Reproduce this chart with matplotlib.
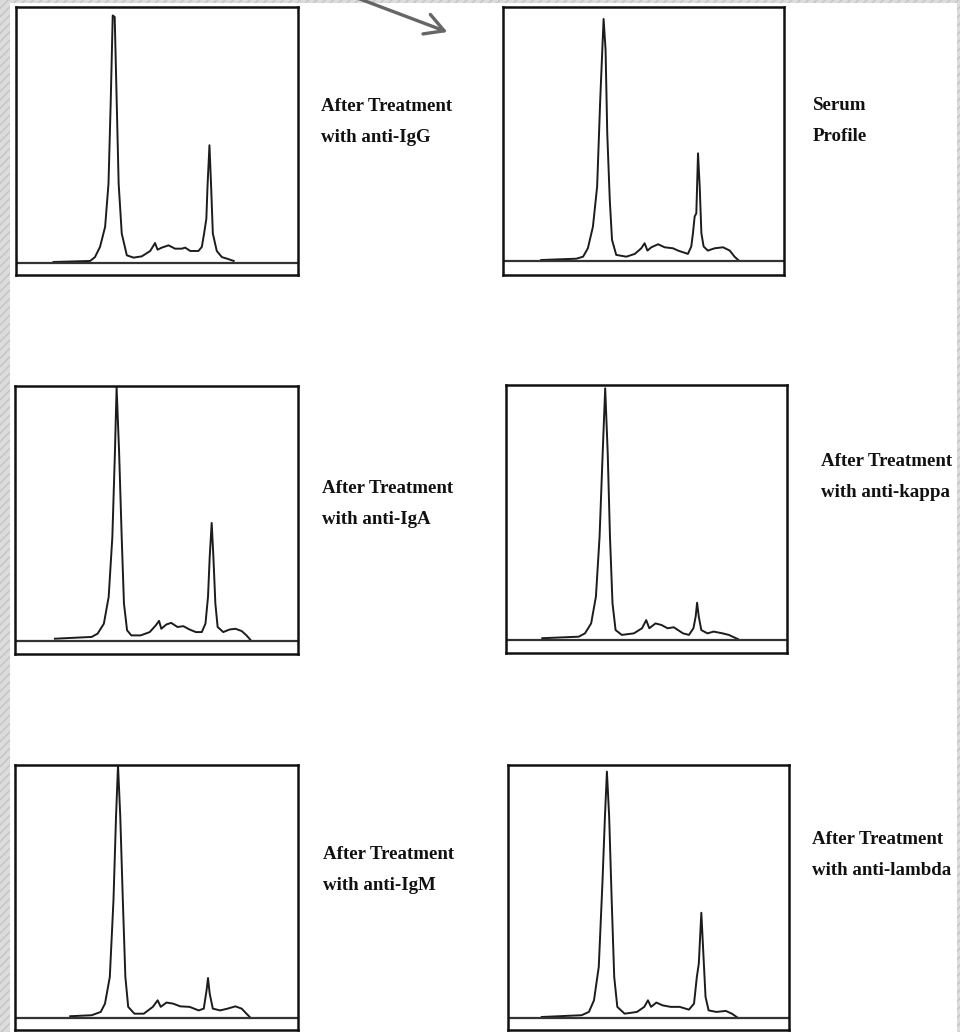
import matplotlib.pyplot as plt
from matplotlib.patches import Rectangle, FancyArrowPatch

# densitometer traces
# x: % of frame width, y: % of frame height above the baseline
igg_x = [13.3, 26.3, 28.0, 29.8, 31.6, 32.8, 33.6, 34.3, 35.0, 35.7, 36.4, 37.5, 39.3, 41.7,
         44.6, 47.6, 49.3, 50.2, 51.7, 54.1, 56.4, 58.8, 60.0, 61.8, 64.7, 65.9, 66.7, 67.5,
         67.9, 68.6, 69.2, 69.8, 71.2, 73.0, 74.8, 77.2]
igg_y = [0.4, 0.8, 2.3, 6.3, 14.1, 31.0, 63.5, 96.7, 96.1, 63.5, 31.0, 11.5, 3.0, 2.1,
         2.6, 4.7, 7.8, 5.2, 6.0, 6.9, 5.6, 5.6, 6.0, 4.7, 4.7, 6.3, 11.5, 17.3,
         29.7, 46.0, 29.7, 11.5, 4.7, 2.3, 1.7, 0.8]

serum_x = [13.6, 26.1, 28.5, 30.2, 32.0, 33.5, 34.6, 35.8, 36.5, 37.1, 38.0, 38.8, 40.3, 43.9,
           46.9, 49.2, 50.4, 51.4, 52.8, 55.2, 57.5, 60.5, 62.3, 65.8, 67.0, 67.6, 68.2, 68.8,
           69.4, 70.0, 70.6, 71.4, 72.9, 75.3, 78.3, 80.7, 82.4, 84.0]
serum_y = [0.4, 0.9, 1.7, 5.0, 13.5, 29.3, 63.5, 95.3, 83.2, 50.3, 24.0, 8.3, 2.4, 1.7,
           2.8, 5.0, 7.0, 4.1, 5.4, 6.6, 5.4, 5.0, 4.1, 2.8, 5.7, 10.9, 17.5, 18.8,
           42.4, 29.3, 10.9, 5.7, 4.1, 5.0, 5.4, 4.1, 1.7, 0.1]

iga_x = [14.1, 27.1, 29.2, 31.4, 33.1, 34.4, 35.3, 35.9, 36.8, 37.7, 38.5, 39.6, 41.1, 44.4,
         47.6, 49.8, 50.9, 51.7, 53.5, 55.2, 57.4, 59.5, 61.7, 63.9, 66.0, 67.3, 68.2, 68.8,
         69.5, 70.1, 70.8, 71.6, 73.6, 75.8, 77.9, 80.1, 81.8, 83.3]
iga_y = [0.9, 1.6, 2.9, 6.8, 17.3, 40.8, 73.6, 99.5, 73.6, 40.8, 14.7, 4.2, 2.2, 2.2,
         3.5, 6.2, 7.9, 4.8, 6.5, 7.1, 5.5, 5.8, 4.5, 3.5, 3.5, 6.8, 17.3, 33.0,
         46.3, 33.0, 14.7, 5.5, 3.5, 4.5, 4.8, 3.9, 2.2, 0.3]

kappa_x = [12.9, 25.9, 28.1, 30.3, 32.0, 33.3, 34.4, 35.3, 36.2, 37.0, 37.9, 39.0, 41.2, 45.5,
           48.4, 49.9, 51.0, 53.2, 55.3, 57.5, 59.7, 63.0, 65.1, 66.7, 67.5, 68.0, 68.6, 69.5,
           71.7, 73.9, 77.1, 79.3, 82.6]
kappa_y = [0.7, 1.3, 2.6, 6.5, 17.0, 40.5, 73.2, 98.7, 73.2, 40.5, 14.4, 3.9, 2.0, 2.6,
           4.6, 7.8, 4.6, 6.5, 5.9, 4.6, 5.0, 2.6, 2.0, 4.6, 9.2, 14.6, 9.2, 3.9,
           2.6, 3.3, 2.6, 2.0, 0.3]

igm_x = [19.5, 27.1, 30.3, 31.8, 33.5, 34.8, 35.7, 36.4, 37.2, 38.1, 39.0, 40.0, 42.2, 45.5,
         48.7, 50.4, 51.5, 53.5, 55.8, 58.4, 61.7, 64.9, 66.7, 67.7, 68.2, 68.8, 69.9, 72.5,
         75.1, 77.9, 80.1, 81.8, 83.3]
igm_y = [0.7, 1.1, 2.4, 5.7, 16.2, 46.6, 79.6, 100.0, 79.6, 46.6, 16.2, 4.4, 1.7, 1.7,
         4.4, 7.0, 4.4, 6.1, 5.7, 4.6, 4.4, 3.0, 3.7, 11.0, 15.8, 9.6, 3.7, 3.0,
         3.7, 4.6, 3.7, 1.7, 0.0]

lambda_x = [12.0, 26.2, 28.8, 30.6, 32.3, 33.6, 34.5, 35.2, 36.0, 36.9, 37.8, 38.9, 41.5, 45.9,
            48.5, 49.8, 50.9, 52.8, 55.0, 57.9, 61.1, 64.4, 66.2, 67.2, 67.9, 68.8, 69.7, 70.3,
            71.4, 74.2, 77.5, 79.7, 81.9]
lambda_y = [0.4, 1.1, 2.4, 7.0, 20.2, 53.2, 79.6, 97.4, 79.6, 46.6, 16.2, 4.4, 1.7, 2.4,
            4.4, 7.0, 4.4, 6.1, 5.0, 4.4, 4.4, 3.3, 5.7, 16.2, 21.5, 41.6, 21.5, 8.3,
            3.0, 2.4, 2.8, 1.7, 0.0]

labels = ["After Treatment\nwith anti-IgG", "Serum\nProfile",
          "After Treatment\nwith anti-IgA", "After Treatment\nwith anti-kappa",
          "After Treatment\nwith anti-IgM", "After Treatment\nwith anti-lambda"]
traces = [(igg_x, igg_y), (serum_x, serum_y), (iga_x, iga_y),
          (kappa_x, kappa_y), (igm_x, igm_y), (lambda_x, lambda_y)]

W, H = 960, 1032
# frame in pixels: left, top, right, bottom, baseline
boxes = [(16, 7, 298, 275, 263), (503, 7, 784, 275, 261),
         (15, 386, 298, 654, 641), (506, 385, 787, 653, 640),
         (15, 765, 298, 1030, 1018), (508, 765, 789, 1030, 1018)]
# label anchor: left x, middle y
label_pos = [(321, 122), (813, 121), (322, 504), (821, 477), (323, 870), (812, 855)]

fig = plt.figure(figsize=(W / 100, H / 100), dpi=100)
fig.patch.set_facecolor('white')

# scanned page edges
for r in [Rectangle((0, 0), 10 / W, 1), Rectangle((0, 1 - 3 / H), 1, 3 / H),
          Rectangle((1 - 3 / W, 0), 3 / W, 1)]:
    r.set_transform(fig.transFigure)
    r.set_facecolor('#dcdcdc')
    r.set_edgecolor('#c4c4c4')
    r.set_hatch('////')
    r.set_linewidth(0)
    fig.add_artist(r)

for i in range(6):
    l, t, r, b, base = boxes[i]
    ax = fig.add_axes([l / W, 1 - b / H, (r - l) / W, (b - t) / H])
    x, y = traces[i]
    ax.plot(x, y, color='#1c1c1c', lw=1.4)
    ax.axhline(0, color='#333333', lw=1.6)
    ax.set_xlim(0, 100)
    ax.set_ylim(-(b - base) / (base - t) * 100, 100)
    ax.set_xticks([])
    ax.set_yticks([])
    for s in ax.spines.values():
        s.set_linewidth(1.8)
        s.set_color('#111111')

    lx, ly = label_pos[i]
    fig.text(lx / W, 1 - ly / H, labels[i], ha='left', va='center',
             family='Liberation Serif', weight='bold', fontsize=13.6,
             linespacing=2.05, color='#111111')

arrow = FancyArrowPatch((352 / W, 1 + 4 / H), (450 / W, 1 - 33 / H),
                        transform=fig.transFigure, arrowstyle='->,head_length=9,head_width=5',
                        color='#666666', lw=2.4, mutation_scale=1.5)
fig.add_artist(arrow)

fig.savefig('out.png', dpi=100)
